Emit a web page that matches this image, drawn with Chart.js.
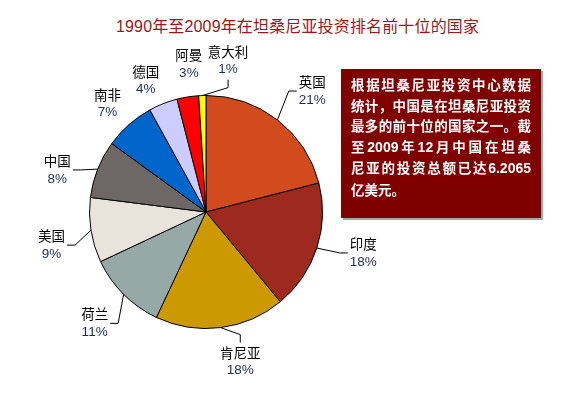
<!DOCTYPE html>
<html><head><meta charset="utf-8">
<script src="https://cdn.jsdelivr.net/npm/chart.js@4/dist/chart.umd.min.js"></script>
<style>
html,body{margin:0;padding:0;background:#fff;width:573px;height:393px;overflow:hidden;position:relative;font-family:"Noto Sans CJK SC",sans-serif}
#title{position:absolute;left:116px;top:16px;white-space:nowrap;color:#9e1616;font-size:16px;line-height:22px;letter-spacing:0.15px;font-family:"Liberation Sans","Noto Sans CJK SC",sans-serif}
#note{position:absolute;left:341px;top:69px;width:200px;height:149px;background:#800000;box-shadow:2px 2px 0 #a8a8a8;color:#fff;font-weight:bold;font-size:13.5px;line-height:20.6px;box-sizing:border-box;padding:5px 0 0 10px}
#note div{width:180px;text-align:justify;text-align-last:justify;white-space:nowrap}
#note div.last{text-align-last:left}
#note .n{font-family:"Liberation Sans","Noto Sans CJK SC",sans-serif;font-size:14px}
canvas{position:absolute;left:0;top:0}
</style></head>
<body>
<div id="title">1990年至2009年在坦桑尼亚投资排名前十位的国家</div>
<canvas id="c" width="573" height="393"></canvas>
<div id="note"><div>根据坦桑尼亚投资中心数据</div><div>统计，中国是在坦桑尼亚投资</div><div>最多的前十位的国家之一。截</div><div>至<span class="n">2009</span>年<span class="n">12</span>月中国在坦桑</div><div>尼亚的投资总额已达<span class="n">6.2065</span></div><div class="last">亿美元。</div></div>
<script>
const categories = ['英国','印度','肯尼亚','荷兰','美国','中国','南非','德国','阿曼','意大利'];
const shares = [21,18,18,11,9,8,7,4,3,1];
const sliceColors = ['#d24b1c','#9e2a1f','#cc9a00','#97a9a6','#e8e4dc','#6d6866','#0066cc','#ccccff','#ff0000','#ffff00'];

// label placement: extra distance beyond the rim (px) and angle shift (deg) per slice
const labelPlace = {
  '英国':{d:44.5,a:3.5}, '印度':{d:46,a:-3.4}, '肯尼亚':{d:37,a:-5.7}, '荷兰':{d:41,a:0},
  '美国':{d:41.5,a:-3.1}, '中国':{d:38,a:-5.8}, '南非':{d:30,a:-0.8}, '德国':{d:28,a:-3},
  '阿曼':{d:32.5,a:2.4}, '意大利':{d:36.5,a:10.1}
};

const labelPlugin = {
  id:'pieLabels',
  afterDatasetsDraw(chart){
    const ctx = chart.ctx;
    const meta = chart.getDatasetMeta(0);
    ctx.save();
    meta.data.forEach((arc,i)=>{
      const p = arc.getProps(['x','y','startAngle','endAngle','outerRadius'], true);
      const R = p.outerRadius;
      const pl = labelPlace[categories[i]];
      const mid0 = (p.startAngle+p.endAngle)/2;
      const mid = mid0 + pl.a*Math.PI/180;
      const ex = p.x + Math.cos(mid0)*R, ey = p.y + Math.sin(mid0)*R;
      const lx = p.x + Math.cos(mid)*(R+pl.d), ly = p.y + Math.sin(mid)*(R+pl.d);
      const nameFont='13.5px "Noto Sans CJK SC", sans-serif';
      const pctFont='13.5px "Liberation Sans", sans-serif';
      ctx.font=nameFont; const w1=ctx.measureText(categories[i]).width;
      ctx.font=pctFont; const w2=ctx.measureText(shares[i]+'%').width;
      const hw=Math.max(w1,w2)/2+2, hh=19;
      if (pl.d > 34){
        const dx=ex-lx, dy=ey-ly;
        let ax,ay,bx,by;
        if (Math.abs(dx)/hw > Math.abs(dy)/hh){
          const s=Math.sign(dx); ax=lx+s*hw; ay=ly; bx=ax+s*8; by=ay;
        } else {
          const s=Math.sign(dy); ax=lx; ay=ly+s*hh; bx=ax; by=ay+s*8;
        }
        ctx.strokeStyle='#000'; ctx.lineWidth=1;
        ctx.beginPath(); ctx.moveTo(ex,ey); ctx.lineTo(bx,by); ctx.lineTo(ax,ay); ctx.stroke();
      }
      ctx.textAlign='center'; ctx.textBaseline='middle';
      ctx.fillStyle='#000'; ctx.font=nameFont;
      ctx.fillText(categories[i], lx, ly-9);
      ctx.fillStyle='#1f2d55'; ctx.font=pctFont;
      ctx.fillText(shares[i]+'%', lx, ly+9);
    });
    ctx.restore();
  }
};

new Chart(document.getElementById('c'), {
  type:'pie',
  data:{labels:categories, datasets:[{data:shares, backgroundColor:sliceColors, borderColor:'#000', borderWidth:1}]},
  options:{
    responsive:false, animation:false, events:[],
    layout:{padding:{left:89, right:250, top:95, bottom:64}},
    plugins:{legend:{display:false}, tooltip:{enabled:false}, title:{display:false}}
  },
  plugins:[labelPlugin]
});
</script>
</body></html>
